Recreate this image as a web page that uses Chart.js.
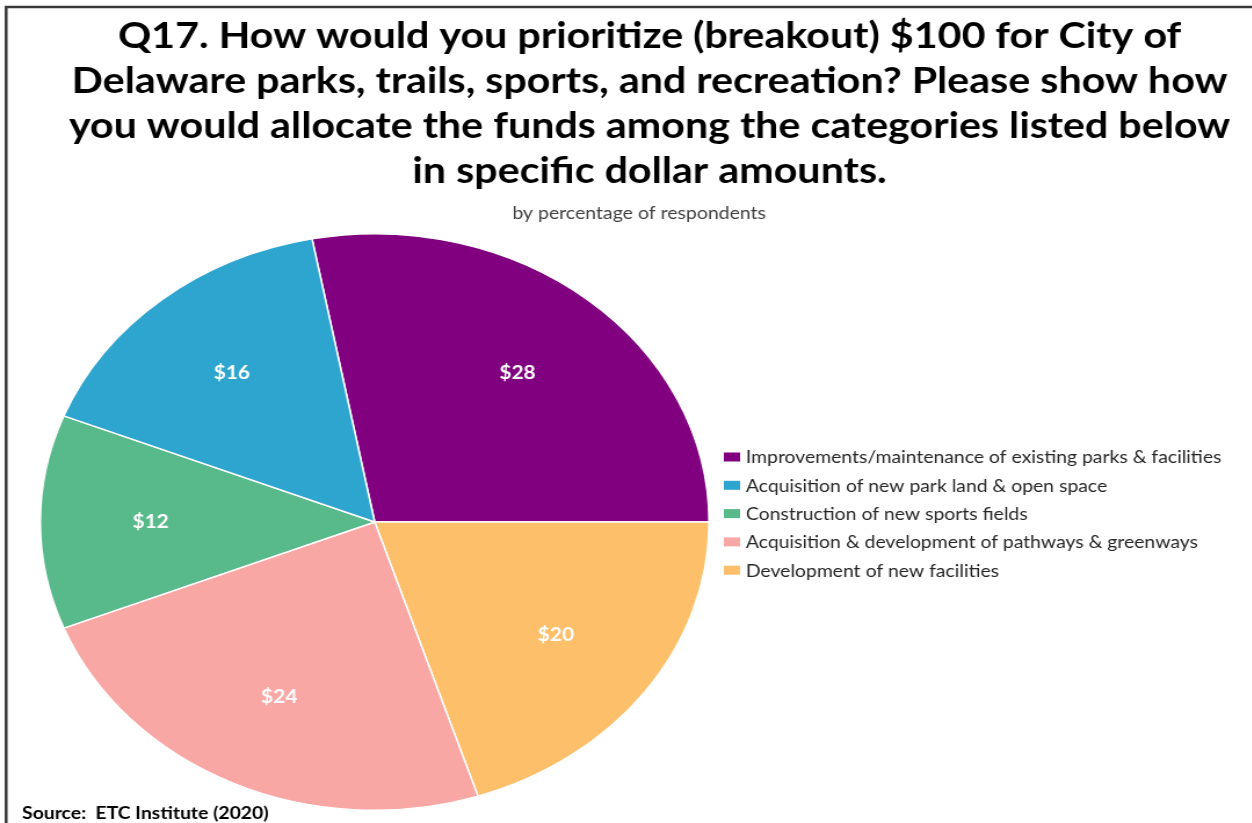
<!DOCTYPE html>
<html>
<head>
<meta charset="utf-8">
<script src="https://cdn.jsdelivr.net/npm/chart.js@4"></script>
<style>
  html, body { margin: 0; padding: 0; background: #fff; overflow: hidden; }
  #wrap { position: relative; width: 1080px; height: 823px; transform: scaleX(1.16); transform-origin: 0 0; }
</style>
</head>
<body>
<div id="wrap"><canvas id="chart"></canvas></div>
<script>
const titleLines = [
    'Q17. How would you prioritize (breakout) $100 for City of',
    'Delaware parks, trails, sports, and recreation? Please show how',
    'you would allocate the funds among the categories listed below',
    'in specific dollar amounts.'
];
const subtitle = 'by percentage of respondents';
const source = 'Source:  ETC Institute (2020)';

const categories = [
    'Improvements/maintenance of existing parks & facilities',
    'Acquisition of new park land & open space',
    'Construction of new sports fields',
    'Acquisition & development of pathways & greenways',
    'Development of new facilities'
];
const dollars = [28, 16, 12, 24, 20];
const colors = ['#800080', '#2EA5CF', '#58B98A', '#F9A7A5', '#FDBF6A'];

// slices run clockwise from purple, the legend keeps the list order
const sliceOrder = [0, 4, 3, 2, 1];

const FONT = 'Lato, "Open Sans", sans-serif';

const decorations = {
    id: 'decorations',
    afterDraw(chart) {
        const ctx = chart.ctx;
        ctx.save();

        // frame
        ctx.strokeStyle = '#3a3a3a';
        ctx.lineWidth = 2.5;
        ctx.beginPath();
        ctx.moveTo(5.3, 823);
        ctx.lineTo(5.3, 7);
        ctx.lineTo(1080, 7);
        ctx.stroke();

        // title
        ctx.fillStyle = '#000';
        ctx.textAlign = 'center';
        ctx.textBaseline = 'alphabetic';
        ctx.font = 'bold 35.5px ' + FONT;
        titleLines.forEach((t, i) => ctx.fillText(t, 560, 48 + i * 45));

        ctx.fillStyle = '#404040';
        ctx.font = '16.8px ' + FONT;
        ctx.fillText(subtitle, 551, 219);

        // legend
        ctx.textAlign = 'left';
        ctx.textBaseline = 'middle';
        ctx.font = '16.7px ' + FONT;
        categories.forEach((c, i) => {
            const y = 457 + i * 28.3;
            ctx.fillStyle = colors[i];
            ctx.fillRect(624, y - 4.5, 14, 9);
            ctx.fillStyle = '#262626';
            ctx.fillText(c, 643, y + 1);
        });

        // source note
        ctx.fillStyle = '#000';
        ctx.textBaseline = 'alphabetic';
        ctx.font = 'bold 16.7px ' + FONT;
        ctx.fillText(source, 19, 819);
        ctx.restore();
    }
};

const sliceLabels = {
    id: 'sliceLabels',
    afterDatasetsDraw(chart) {
        const ctx = chart.ctx;
        const meta = chart.getDatasetMeta(0);
        ctx.save();
        ctx.fillStyle = '#fff';
        ctx.font = 'bold 18px ' + FONT;
        ctx.textAlign = 'center';
        ctx.textBaseline = 'middle';
        meta.data.forEach((arc, i) => {
            const p = arc.getProps(['x', 'y', 'startAngle', 'endAngle', 'outerRadius'], true);
            const mid = (p.startAngle + p.endAngle) / 2;
            const r = p.outerRadius * 0.67;
            const v = chart.data.datasets[0].data[i];
            ctx.fillText('$' + v, p.x + Math.cos(mid) * r, p.y + Math.sin(mid) * r);
        });
        ctx.restore();
    }
};

new Chart(document.getElementById('chart'), {
    type: 'pie',
    data: {
        labels: sliceOrder.map(i => categories[i]),
        datasets: [{
            data: sliceOrder.map(i => dollars[i]),
            backgroundColor: sliceOrder.map(i => colors[i]),
            borderColor: '#fff',
            borderWidth: 1.5
        }]
    },
    options: {
        responsive: true,
        maintainAspectRatio: false,
        animation: false,
        rotation: -10.8,
        layout: { padding: { left: 34, right: 468, top: 233, bottom: 12 } },
        plugins: {
            legend: { display: false },
            tooltip: { enabled: false }
        }
    },
    plugins: [sliceLabels, decorations]
});
</script>
</body>
</html>
